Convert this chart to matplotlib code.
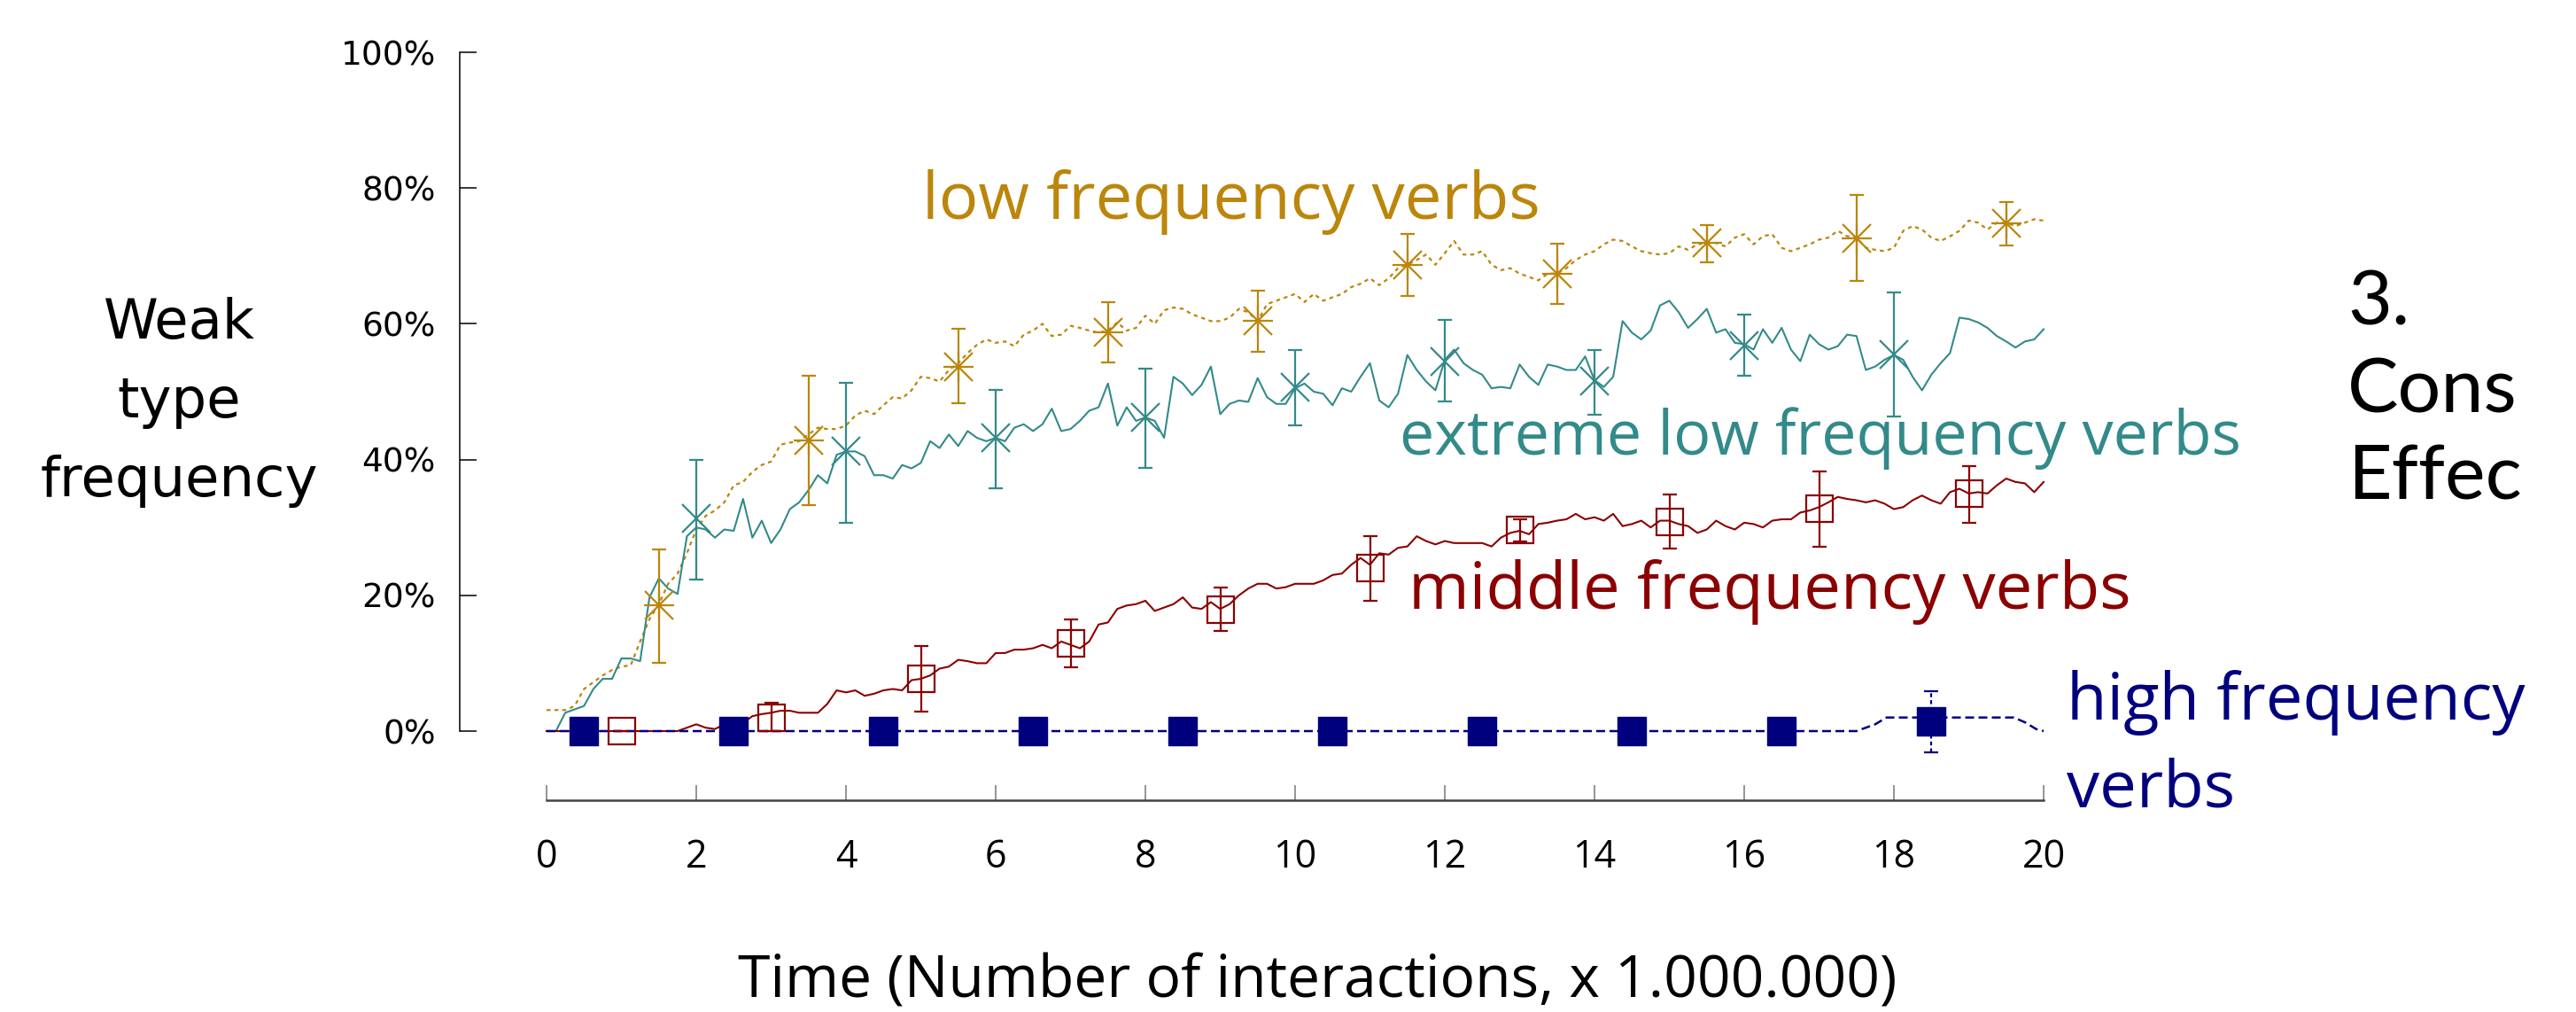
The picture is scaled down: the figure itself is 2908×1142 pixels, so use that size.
import numpy as np
import matplotlib.pyplot as plt
from matplotlib.ticker import FuncFormatter

time = np.linspace(0, 20, 161)

# weak type frequency in %, one row per time unit (8 samples each)
low_freq = [3.1, 3.1, 3.1, 3.7, 6.2, 7.2, 8.2, 9.0,
            9.5, 9.7, 13.2, 16.5, 18.7, 21.7, 23.2, 26.2,
            29.7, 31.7, 32.5, 33.7, 36.2, 36.7, 38.2, 39.2,
            39.7, 42.2, 42.5, 42.7, 43.7, 44.7, 44.5, 44.5,
            45.0, 46.5, 47.2, 46.7, 48.0, 49.2, 49.0, 50.2,
            52.2, 52.0, 51.5, 53.2, 54.2, 55.7, 56.9, 57.7,
            57.2, 57.4, 56.7, 58.4, 59.0, 60.0, 58.2, 58.4,
            59.7, 59.4, 59.0, 58.7, 59.0, 60.2, 59.0, 59.4,
            61.2, 60.0, 62.0, 62.4, 62.2, 61.4, 60.9, 60.4,
            60.4, 60.9, 62.2, 61.7, 60.4, 62.9, 63.4, 63.9,
            64.4, 63.2, 64.4, 63.4, 63.9, 64.4, 65.4, 65.9,
            66.7, 65.7, 66.7, 68.2, 68.7, 69.4, 70.2, 68.7,
            70.4, 72.2, 70.2, 70.2, 70.7, 68.7, 67.9, 68.2,
            67.4, 66.9, 66.4, 67.4, 67.4, 68.2, 69.4, 70.2,
            70.7, 71.7, 72.4, 72.2, 71.4, 70.7, 70.4, 70.2,
            70.4, 71.4, 70.9, 71.7, 71.9, 71.9, 71.4, 72.7,
            73.2, 71.7, 72.9, 73.2, 71.2, 70.7, 71.2, 71.7,
            72.4, 72.7, 73.7, 72.9, 72.7, 71.2, 70.9, 70.7,
            71.2, 73.7, 74.4, 73.9, 72.7, 72.2, 72.9, 73.7,
            75.2, 74.9, 73.9, 74.9, 74.9, 74.4, 74.9, 75.4,
            75.2]

extreme_low = [0.0, 0.0, 2.7, 3.2, 3.7, 6.2, 7.7, 7.7,
               10.7, 10.7, 10.3, 19.7, 22.5, 21.0, 20.2, 28.7,
               30.0, 29.7, 28.5, 29.7, 29.5, 34.2, 28.5, 31.0,
               27.7, 29.7, 32.7, 33.7, 35.5, 37.7, 36.5, 40.7,
               41.2, 41.2, 40.5, 37.7, 37.7, 37.2, 39.2, 38.7,
               39.5, 42.7, 41.7, 43.7, 42.0, 44.2, 43.2, 42.7,
               43.2, 42.7, 44.7, 45.2, 44.2, 45.2, 47.5, 44.2,
               44.5, 45.7, 47.2, 47.7, 51.2, 45.0, 47.7, 45.7,
               46.2, 45.7, 43.2, 52.2, 51.2, 49.5, 51.0, 53.7,
               46.7, 48.2, 48.7, 48.5, 52.0, 49.2, 48.2, 48.2,
               50.5, 51.2, 50.0, 49.7, 48.0, 50.5, 50.0, 52.2,
               54.2, 48.7, 47.7, 49.7, 55.4, 53.2, 51.5, 50.2,
               54.7, 56.2, 54.2, 53.2, 52.5, 50.5, 50.7, 50.5,
               54.0, 52.2, 51.0, 54.0, 53.7, 53.2, 53.2, 55.2,
               51.7, 50.7, 52.2, 60.4, 58.7, 57.7, 59.0, 62.7,
               63.4, 61.7, 59.4, 60.7, 62.2, 58.7, 59.2, 57.2,
               57.0, 56.2, 59.2, 57.2, 59.4, 56.2, 54.5, 58.4,
               57.0, 56.2, 56.7, 58.4, 58.2, 53.2, 53.7, 54.7,
               55.4, 54.7, 52.2, 50.2, 52.5, 54.2, 55.7, 60.9,
               60.7, 60.2, 59.4, 58.2, 57.4, 56.5, 57.4, 57.7,
               59.2]

middle_freq = [0.0, 0.0, 0.0, 0.0, 0.0, 0.0, 0.0, 0.0,
               0.0, 0.0, 0.0, 0.0, 0.0, 0.0, 0.0, 0.5,
               1.0, 0.5, 0.3, 1.0, 1.0, 1.2, 2.2, 2.5,
               2.7, 3.0, 3.0, 2.7, 2.7, 2.7, 4.0, 6.0,
               5.7, 6.0, 5.2, 5.5, 6.0, 6.2, 6.0, 7.5,
               7.7, 8.2, 9.2, 9.5, 10.5, 10.3, 10.0, 10.0,
               11.5, 11.5, 12.0, 12.0, 12.2, 12.7, 12.2, 13.2,
               12.7, 12.2, 13.2, 15.7, 16.0, 18.0, 18.5, 18.7,
               19.2, 17.7, 18.2, 18.7, 19.7, 18.2, 18.0, 19.0,
               18.0, 18.7, 20.0, 21.0, 21.7, 21.7, 21.0, 21.2,
               21.7, 21.7, 21.7, 22.2, 23.0, 23.2, 24.5, 25.5,
               24.5, 26.2, 26.0, 27.0, 27.2, 28.7, 28.0, 27.5,
               28.0, 27.7, 27.7, 27.7, 27.7, 27.2, 28.5, 29.2,
               29.5, 29.0, 30.5, 30.7, 31.0, 31.2, 32.0, 31.2,
               31.5, 31.0, 32.0, 30.2, 30.5, 31.0, 30.0, 31.0,
               31.0, 30.5, 30.2, 29.2, 29.7, 31.0, 30.2, 29.7,
               30.7, 30.5, 30.0, 31.0, 31.2, 31.2, 32.2, 32.5,
               33.0, 33.7, 34.5, 34.2, 34.0, 33.7, 34.0, 33.5,
               32.7, 33.0, 34.0, 34.7, 34.0, 33.5, 35.2, 35.7,
               35.0, 35.2, 35.0, 36.2, 37.2, 36.7, 36.5, 35.2,
               36.7]

high_time = [0.0, 17.5, 17.6, 17.75, 17.9, 19.6, 19.75, 19.9, 20.0]
high_freq = [0.0, 0.0, 0.4, 1.0, 2.0, 2.0, 1.3, 0.3, 0.0]

# marker points with error bars (value, lower, upper)
low_mx = [1.5, 3.5, 5.5, 7.5, 9.5, 11.5, 13.5, 15.5, 17.5, 19.5]
low_my = [18.5, 42.8, 53.7, 58.8, 60.4, 68.7, 67.3, 71.9, 72.6, 74.8]
low_lo = [10.0, 33.3, 48.3, 54.3, 55.9, 64.1, 62.9, 69.1, 66.3, 71.5]
low_hi = [26.8, 52.3, 59.3, 63.2, 64.9, 73.3, 71.8, 74.6, 79.0, 77.9]

ext_mx = [2, 4, 6, 8, 10, 12, 14, 16, 18]
ext_my = [31.3, 41.2, 43.2, 46.2, 50.6, 54.4, 51.6, 56.8, 55.5]
ext_lo = [22.3, 30.7, 35.8, 38.8, 45.1, 48.6, 46.6, 52.3, 46.3]
ext_hi = [40.0, 51.3, 50.2, 53.4, 56.2, 60.6, 56.2, 61.4, 64.6]

mid_mx = [1, 3, 5, 7, 9, 11, 13, 15, 17, 19]
mid_my = [0.0, 2.0, 7.7, 12.9, 17.9, 24.0, 29.6, 30.8, 32.8, 35.0]
mid_lo = [0.0, 0.0, 2.9, 9.4, 14.8, 19.2, 28.0, 26.9, 27.2, 30.7]
mid_hi = [0.0, 4.2, 12.5, 16.4, 21.1, 28.7, 31.2, 34.8, 38.3, 39.0]

high_mx = [0.5, 2.5, 4.5, 6.5, 8.5, 10.5, 12.5, 14.5, 16.5, 18.5]
high_my = [0, 0, 0, 0, 0, 0, 0, 0, 0, 1.5]
high_lo = [0, 0, 0, 0, 0, 0, 0, 0, 0, -3.1]
high_hi = [0, 0, 0, 0, 0, 0, 0, 0, 0, 5.9]

y_ticks = [0, 20, 40, 60, 80, 100]
x_ticks = [0, 2, 4, 6, 8, 10, 12, 14, 16, 18, 20]

GOLD = '#BB860B'
TEAL = '#338A8A'
RED = '#8B0000'
NAVY = '#00007F'

COND = ['Liberation Sans Narrow', 'Open Sans', 'DejaVu Sans']
HUMAN = ['Open Sans', 'DejaVu Sans']

fig = plt.figure(figsize=(29.08, 11.42), dpi=100)
ax = fig.add_axes([617 / 2908, 1 - 825 / 1142, 1690 / 2908, 766 / 1142])
ax.set_xlim(0, 20)
ax.set_ylim(0, 100)


def errbars(x, y, lo, hi, color, dashed=False):
    y = np.array(y, dtype=float)
    err = [y - np.array(lo), np.array(hi) - y]
    cont = ax.errorbar(x, y, yerr=err, fmt='none', ecolor=color, elinewidth=1.6,
                       capsize=6, capthick=1.6, zorder=4)
    for art in cont.get_children():
        art.set_clip_on(False)
    if dashed:
        cont[2][0].set_linestyle((0, (2, 1.5)))


# lines
ax.plot(time, low_freq, color=GOLD, lw=1.6, ls=(0, (2, 2)), clip_on=False, zorder=2)
ax.plot(time, extreme_low, color=TEAL, lw=1.5, clip_on=False, zorder=2)
ax.plot(time, middle_freq, color=RED, lw=1.5, clip_on=False, zorder=2)
ax.plot(high_time, high_freq, color=NAVY, lw=1.8, ls=(0, (4, 2)), clip_on=False, zorder=3)

# error bars and markers
errbars(low_mx, low_my, low_lo, low_hi, GOLD)
ax.plot(low_mx, low_my, ls='none', marker='+', ms=24, mew=1.6, color=GOLD, clip_on=False, zorder=5)
ax.plot(low_mx, low_my, ls='none', marker='x', ms=23, mew=1.6, color=GOLD, clip_on=False, zorder=5)

errbars(ext_mx, ext_my, ext_lo, ext_hi, TEAL)
ax.plot(ext_mx, ext_my, ls='none', marker='x', ms=23, mew=1.6, color=TEAL, clip_on=False, zorder=5)

errbars(mid_mx, mid_my, mid_lo, mid_hi, RED)
ax.plot(mid_mx, mid_my, ls='none', marker='s', ms=22, mew=1.6, mfc='none', mec=RED,
        clip_on=False, zorder=5)

errbars(high_mx, high_my, high_lo, high_hi, NAVY, dashed=True)
ax.plot(high_mx, high_my, ls='none', marker='s', ms=23, mew=1, color=NAVY, clip_on=False, zorder=5)

# axes styling
for side in ['top', 'right']:
    ax.spines[side].set_visible(False)
ax.spines['left'].set_position(('outward', 70.6))
ax.spines['left'].set_linewidth(1.1)
ax.spines['bottom'].set_position(('outward', 56.5))
ax.spines['bottom'].set_linewidth(1.8)
ax.spines['bottom'].set_color('#444444')

ax.set_yticks(y_ticks)
ax.yaxis.set_major_formatter(FuncFormatter(lambda v, p: f'{v:.0f}%'))
ax.set_xticks(x_ticks)
ax.tick_params(axis='y', direction='in', length=13.7, width=1.1, color='black',
               pad=19.4, labelsize=27, labelfontfamily='DejaVu Sans')
ax.tick_params(axis='x', direction='in', length=12, width=1.1, color='#777777',
               pad=30, labelsize=31)
for lbl in ax.get_xticklabels():
    lbl.set_family(COND)

# series labels
ax.text(5.02, 75.5, 'low frequency verbs', color=GOLD, fontsize=53.5, family=HUMAN,
        ha='left', va='baseline')
ax.text(11.40, 40.7, 'extreme low frequency verbs', color=TEAL, fontsize=50.5, family=HUMAN,
        ha='left', va='baseline')
ax.text(11.51, 18.0, 'middle frequency verbs', color=RED, fontsize=53.5, family=HUMAN,
        ha='left', va='baseline')
ax.text(20.31, 1.7, 'high frequency', color=NAVY, fontsize=53.5, family=HUMAN,
        ha='left', va='baseline')
ax.text(20.31, -11.2, 'verbs', color=NAVY, fontsize=53.5, family=HUMAN,
        ha='left', va='baseline')

# y axis title, three lines
for word, base in [('Weak', 382), ('type', 471), ('frequency', 560)]:
    fig.text(202 / 2908, 1 - base / 1142, word, fontsize=45, family='DejaVu Sans',
             ha='center', va='baseline')

# x axis title
fig.text(1487 / 2908, 1 - 1108 / 1142, 'Time (Number of interactions, x 1.000.000)',
         fontsize=47.5, family=COND, ha='center', va='center')

# heading at right edge
for word, base in [('3.', 366), ('Cons', 465), ('Effec', 564)]:
    fig.text(2650 / 2908, 1 - base / 1142, word, fontsize=62, family=['Lato', 'DejaVu Sans'],
             color='black', ha='left', va='baseline')

fig.savefig('out.png', dpi=100)
